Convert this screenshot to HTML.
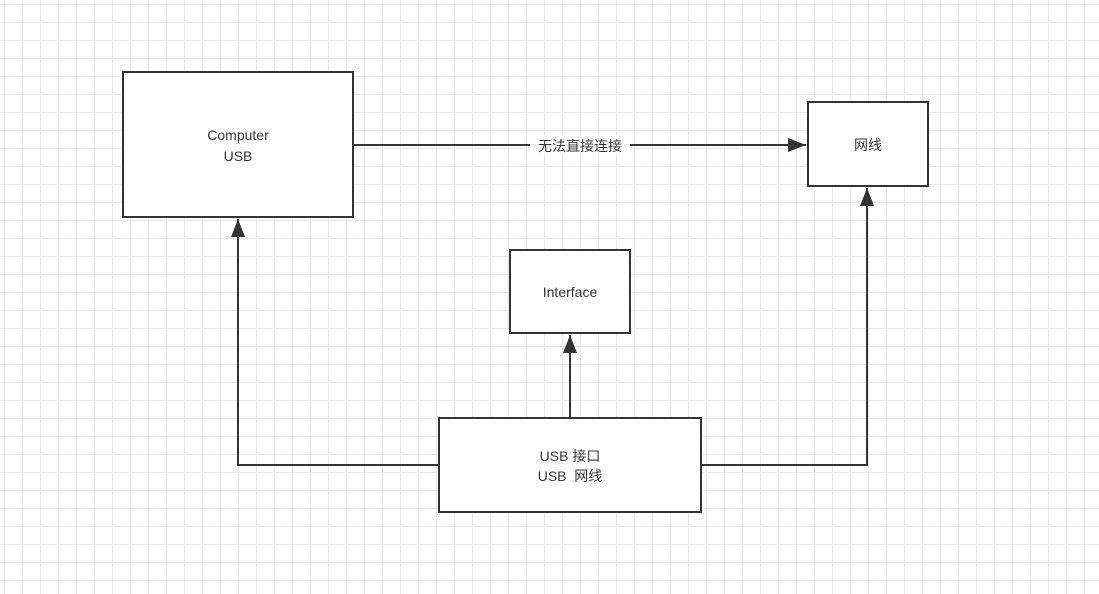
<!DOCTYPE html>
<html><head><meta charset="utf-8"><style>
body{margin:0;width:1099px;height:594px;overflow:hidden;background:#fff;
background-image:linear-gradient(#e8e8e8 1px,transparent 1px),linear-gradient(90deg,#e8e8e8 1px,transparent 1px);
background-size:18px 18px;background-position:4px 4px;}
</style></head><body>
<svg width="1099" height="594" style="position:absolute;left:0;top:0" font-family="Liberation Sans, Noto Sans CJK SC, sans-serif" font-size="14" fill="#333">
<defs><marker id="a" markerWidth="10" markerHeight="10" refX="9" refY="5" orient="auto" markerUnits="userSpaceOnUse"><path d="M0,0 L10,5 L0,10 Z" fill="#333"/></marker>
<marker id="b" markerWidth="20" markerHeight="14" refX="18" refY="7" orient="auto" markerUnits="userSpaceOnUse"><path d="M0,0 L18,7 L0,14 Z" fill="#333"/></marker></defs>
<g stroke="#333" stroke-width="2" fill="#fff">
<rect x="123" y="72" width="230" height="145"/>
<rect x="808" y="102" width="120" height="84"/>
<rect x="510" y="250" width="120" height="83"/>
<rect x="439" y="418" width="262" height="94"/>
</g>
<g stroke="#333" stroke-width="2" fill="none">
<path d="M353,145 H806" marker-end="url(#b)"/>
<path d="M439,465 H238 V219" marker-end="url(#b)"/>
<path d="M701,465 H867 V188" marker-end="url(#b)"/>
<path d="M570,418 V335" marker-end="url(#b)"/>
</g>
<rect x="530" y="136" width="100" height="18" fill="#fff"/>
<g text-anchor="middle" stroke="none">
<text x="238" y="140">Computer</text><text x="238" y="161">USB</text>
<text x="868" y="150">网线</text>
<text x="570" y="297">Interface</text>
<text x="570" y="461">USB 接口</text><text x="570" y="481">USB &#160;网线</text>
<text x="580" y="151">无法直接连接</text>
</g>
</svg>
</body></html>
